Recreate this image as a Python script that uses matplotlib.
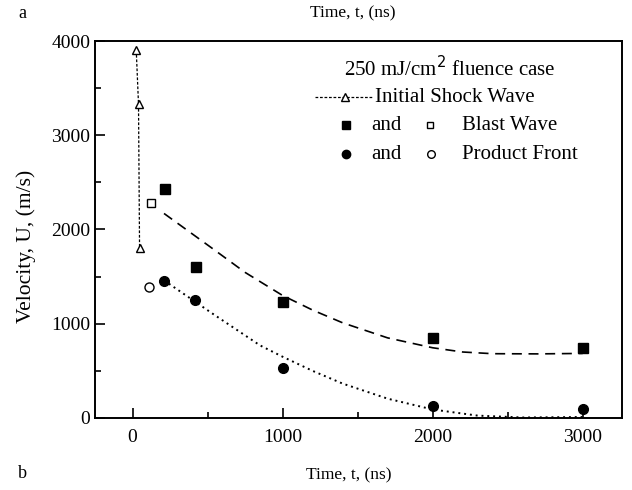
#!/usr/bin/env python3
"""Velocity vs time for the 250 mJ/cm2 fluence case (shock, blast wave, product front)."""
import matplotlib

matplotlib.use("Agg")
import matplotlib.pyplot as plt
from matplotlib.ticker import MultipleLocator

plt.rcParams["font.family"] = ["Liberation Serif", "DejaVu Serif"]

# initial shock wave (open triangles)
shock_t = [25, 40, 47]
shock_u = [3900, 3330, 1800]

# blast wave: open = early point, filled = later points
blast_open_t = [120]
blast_open_u = [2280]
blast_t = [215, 420, 1000, 2000, 3000]
blast_u = [2430, 1600, 1230, 850, 740]

# product front
prod_open_t = [113]
prod_open_u = [1390]
prod_t = [210, 415, 1000, 2000, 3000]
prod_u = [1450, 1250, 530, 130, 90]

# fitted curves
blast_fit_t = [210, 540, 750, 1000, 1200, 1400, 1700, 2000, 2200, 2400, 2700, 3000]
blast_fit_u = [2170, 1790, 1545, 1300, 1145, 1010, 850, 745, 700, 682, 680, 685]
prod_fit_t = [210, 540, 850, 1000, 1200, 1400, 1700, 2000, 2300, 2600, 3000]
prod_fit_u = [1460, 1100, 770, 650, 500, 365, 205, 90, 25, 5, 10]

x_ticks = [0, 1000, 2000, 3000]
y_ticks = [0, 1000, 2000, 3000, 4000]

fig = plt.figure(figsize=(6.32, 4.9), dpi=100)
ax = fig.add_axes([0.1503, 0.147, 0.8334, 0.7693])

ax.plot(shock_t, shock_u, color="black", lw=0.9, ls=(0, (2.2, 1.4)),
        marker="^", ms=6, mfc="white", mec="black", mew=1.0)
ax.plot(blast_fit_t, blast_fit_u, color="black", lw=1.2, ls=(0, (6, 4)))
ax.plot(prod_fit_t, prod_fit_u, color="black", lw=1.4, ls=(0, (1, 2)))

ax.plot(blast_t, blast_u, ls="none", marker="s", ms=6.5, color="black")
ax.plot(blast_open_t, blast_open_u, ls="none", marker="s", ms=6,
        mfc="white", mec="black", mew=1.0)
ax.plot(prod_t, prod_u, ls="none", marker="o", ms=7, color="black")
ax.plot(prod_open_t, prod_open_u, ls="none", marker="o", ms=6.5,
        mfc="white", mec="black", mew=1.0)

ax.set_xlim(-250, 3260)
ax.set_ylim(0, 4000)
ax.set_xticks(x_ticks)
ax.set_yticks(y_ticks)
ax.xaxis.set_minor_locator(MultipleLocator(500))
ax.yaxis.set_minor_locator(MultipleLocator(500))
ax.tick_params(which="major", direction="in", length=7, width=1.2, labelsize=14)
ax.tick_params(which="minor", direction="in", length=4, width=1.2)
ax.tick_params(axis="x", pad=8)
for sp in ax.spines.values():
    sp.set_linewidth(1.4)

# legend drawn by hand, like the original
tr = ax.transAxes
ax.text(0.674, 0.928, "250 mJ/cm$^2$ fluence case", transform=tr,
        ha="center", va="center", fontsize=15)
ax.plot([0.418, 0.526], [0.851, 0.851], transform=tr, color="black",
        lw=0.9, ls=(0, (2.2, 1.4)))
ax.plot([0.474], [0.851], transform=tr, marker="^", ms=5.5,
        mfc="white", mec="black", mew=1.0)
ax.text(0.531, 0.851, "Initial Shock Wave", transform=tr, ha="left",
        va="center", fontsize=15)

ax.plot([0.476], [0.777], transform=tr, marker="s", ms=5.5, color="black")
ax.text(0.553, 0.777, "and", transform=tr, ha="center", va="center", fontsize=15)
ax.plot([0.636], [0.777], transform=tr, marker="s", ms=5, mfc="white",
        mec="black", mew=1.0)
ax.text(0.696, 0.777, "Blast Wave", transform=tr, ha="left", va="center",
        fontsize=15)

ax.plot([0.476], [0.700], transform=tr, marker="o", ms=6, color="black")
ax.text(0.553, 0.700, "and", transform=tr, ha="center", va="center", fontsize=15)
ax.plot([0.638], [0.700], transform=tr, marker="o", ms=5.5, mfc="white",
        mec="black", mew=1.0)
ax.text(0.696, 0.700, "Product Front", transform=tr, ha="left", va="center",
        fontsize=15)

# labels placed at their spots on the page
fig.text(26 / 632, 1 - 246 / 490, "Velocity, U, (m/s)", rotation=90,
         ha="center", va="center", fontsize=15.5)
fig.text(349 / 632, 1 - 475 / 490, "Time, t, (ns)", ha="center",
         va="center", fontsize=12.5)
fig.text(353 / 632, 1 - 13 / 490, "Time, t, (ns)", ha="center",
         va="center", fontsize=12.5)
fig.text(22 / 632, 1 - 13 / 490, "a", ha="center", va="center", fontsize=13)
fig.text(22 / 632, 1 - 473 / 490, "b", ha="center", va="center", fontsize=13)

fig.savefig("out.png", dpi=100)
